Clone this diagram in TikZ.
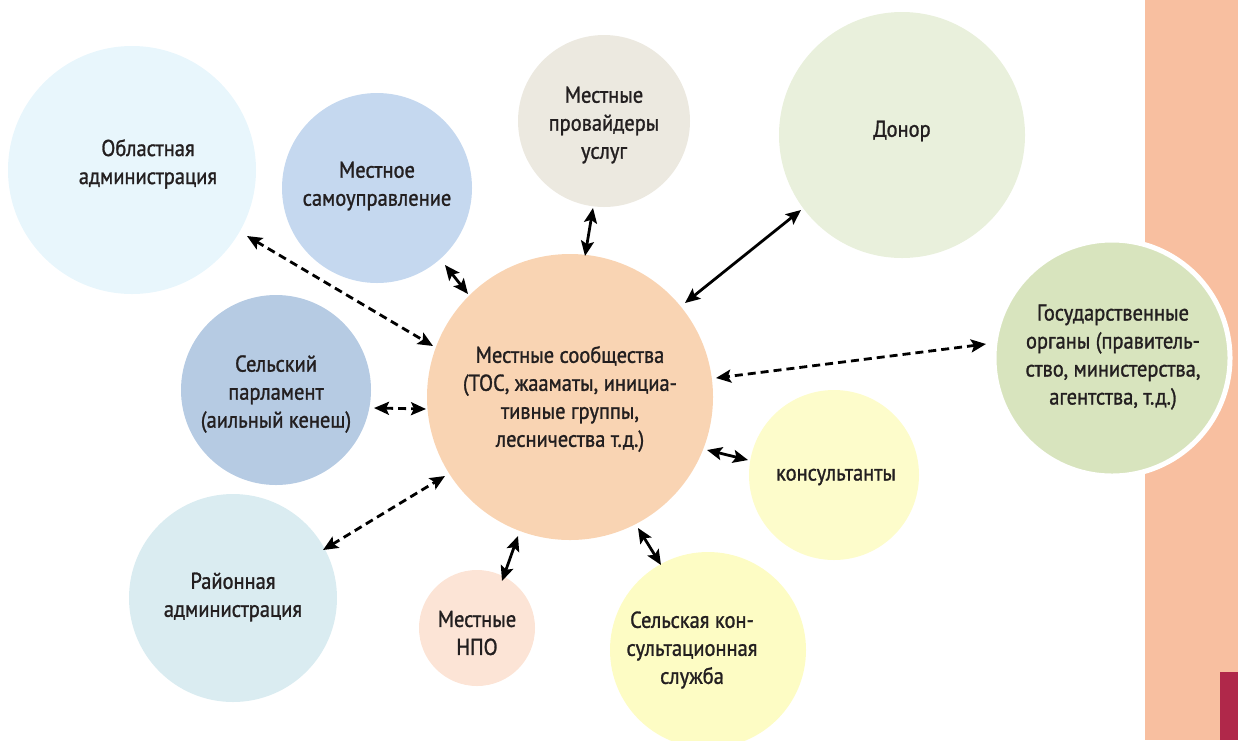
\documentclass[tikz,border=0pt]{standalone}
\usepackage{fontspec}
\setmainfont[FakeStretch=0.89,FakeBold=1.2]{PT Sans}
\usetikzlibrary{arrows.meta}
\definecolor{txt}{HTML}{231F20}
\definecolor{cObl}{HTML}{E8F6FC}
\definecolor{cSam}{HTML}{C5D8EF}
\definecolor{cPro}{HTML}{ECE9E0}
\definecolor{cDon}{HTML}{E9F0DC}
\definecolor{cCom}{HTML}{F9D4B3}
\definecolor{cPar}{HTML}{B6CBE3}
\definecolor{cGos}{HTML}{D8E4BE}
\definecolor{cKon}{HTML}{FDFCCB}
\definecolor{cRay}{HTML}{DAECF1}
\definecolor{cNPO}{HTML}{FCE4D6}
\definecolor{cSel}{HTML}{FDFCC4}
\definecolor{strip}{HTML}{F8BFA0}
\definecolor{dark}{HTML}{B0284A}
\tikzset{
  bubble/.style={circle, inner sep=0pt, minimum size=#1},
  lbl/.style={align=center, text=txt, font=\fontsize{23}{28}\selectfont},
  link/.style={line width=2.8pt, {Stealth[length=15pt,width=13pt,inset=3pt]}-{Stealth[length=15pt,width=13pt,inset=3pt]}},
  dlink/.style={link, dash pattern=on 8pt off 5pt},
}
\begin{document}
\begin{tikzpicture}[x=1pt,y=-1pt]
\path[use as bounding box] (0,0) rectangle (1238,740);
\clip (0,0) rectangle (1238,740);
\fill[strip] (1145,0) rectangle (1238,740);
\fill[dark] (1220,672) rectangle (1238,740);
% circles
\node[bubble=248pt, fill=cObl] (obl) at (132,170) {};
\node[bubble=190pt, fill=cSam] (sam) at (377,188) {};
\node[bubble=172pt, fill=cPro] (pro) at (604,121) {};
\node[bubble=246pt, fill=cDon] (don) at (902,135) {};
\node[bubble=286pt, fill=cCom] (com) at (570,397) {};
\node[bubble=190pt, fill=cPar] (par) at (276,390) {};
\node[bubble=236pt, fill=cGos, draw=white, line width=5pt] (gos) at (1112,358) {};
\node[bubble=170pt, fill=cKon] (kon) at (834,475) {};
\node[bubble=208pt, fill=cRay] (ray) at (233,598) {};
\node[bubble=116pt, fill=cNPO] (npo) at (477,628) {};
\node[bubble=196pt, fill=cSel] (sel) at (708,650) {};
% labels
\node[lbl] (tObl) at (148,164) {Областная\\администрация};
\node[lbl] (tSam) at (377,186) {Местное\\самоуправление};
\node[lbl] (tPro) at (604,125) {Местные\\провайдеры\\услуг};
\node[lbl] (tDon) at (902,131) {Донор};
\node[lbl] (tCom) at (570,399) {Местные сообщества\\(ТОС, жааматы, инициа-\\тивные группы,\\лесничества т.д.)};
\node[lbl] (tPar) at (276,394) {Сельский\\парламент\\(аильный кенеш)};
\node[lbl] (tGos) at (1113,357) {Государственные\\органы (правитель-\\ство, министерства,\\агентства, т.д.)};
\node[lbl] (tKon) at (836,477) {консультанты};
\node[lbl] (tRay) at (233,597) {Районная\\администрация};
\node[lbl] (tNPO) at (477,633) {Местные\\НПО};
\node[lbl] (tSel) at (692,650) {Сельская кон-\\сультационная\\служба};
% arrow end points
\coordinate (a1) at (247,236); \coordinate (b1) at (433,346);
\coordinate (a2) at (445,265); \coordinate (b2) at (468,294);
\coordinate (a3) at (593,208); \coordinate (b3) at (585,256);
\coordinate (a4) at (801,210); \coordinate (b4) at (685,303);
\coordinate (a5) at (986,344); \coordinate (b5) at (716,378);
\coordinate (a6) at (374,408); \coordinate (b6) at (426,409);
\coordinate (a7) at (707,450); \coordinate (b7) at (748,460);
\coordinate (a8) at (323,550); \coordinate (b8) at (445,476);
\coordinate (a9) at (518,536); \coordinate (b9) at (502,581);
\coordinate (a10) at (638,528); \coordinate (b10) at (661,565);
\draw[dlink] (a1) -- (b1);
\draw[link] (a2) -- (b2);
\draw[link] (a3) -- (b3);
\draw[link] (a4) -- (b4);
\draw[dlink] (a5) -- (b5);
\draw[dlink] (a6) -- (b6);
\draw[link] (a7) -- (b7);
\draw[dlink] (a8) -- (b8);
\draw[link] (a9) -- (b9);
\draw[link] (a10) -- (b10);
\end{tikzpicture}
\end{document}
